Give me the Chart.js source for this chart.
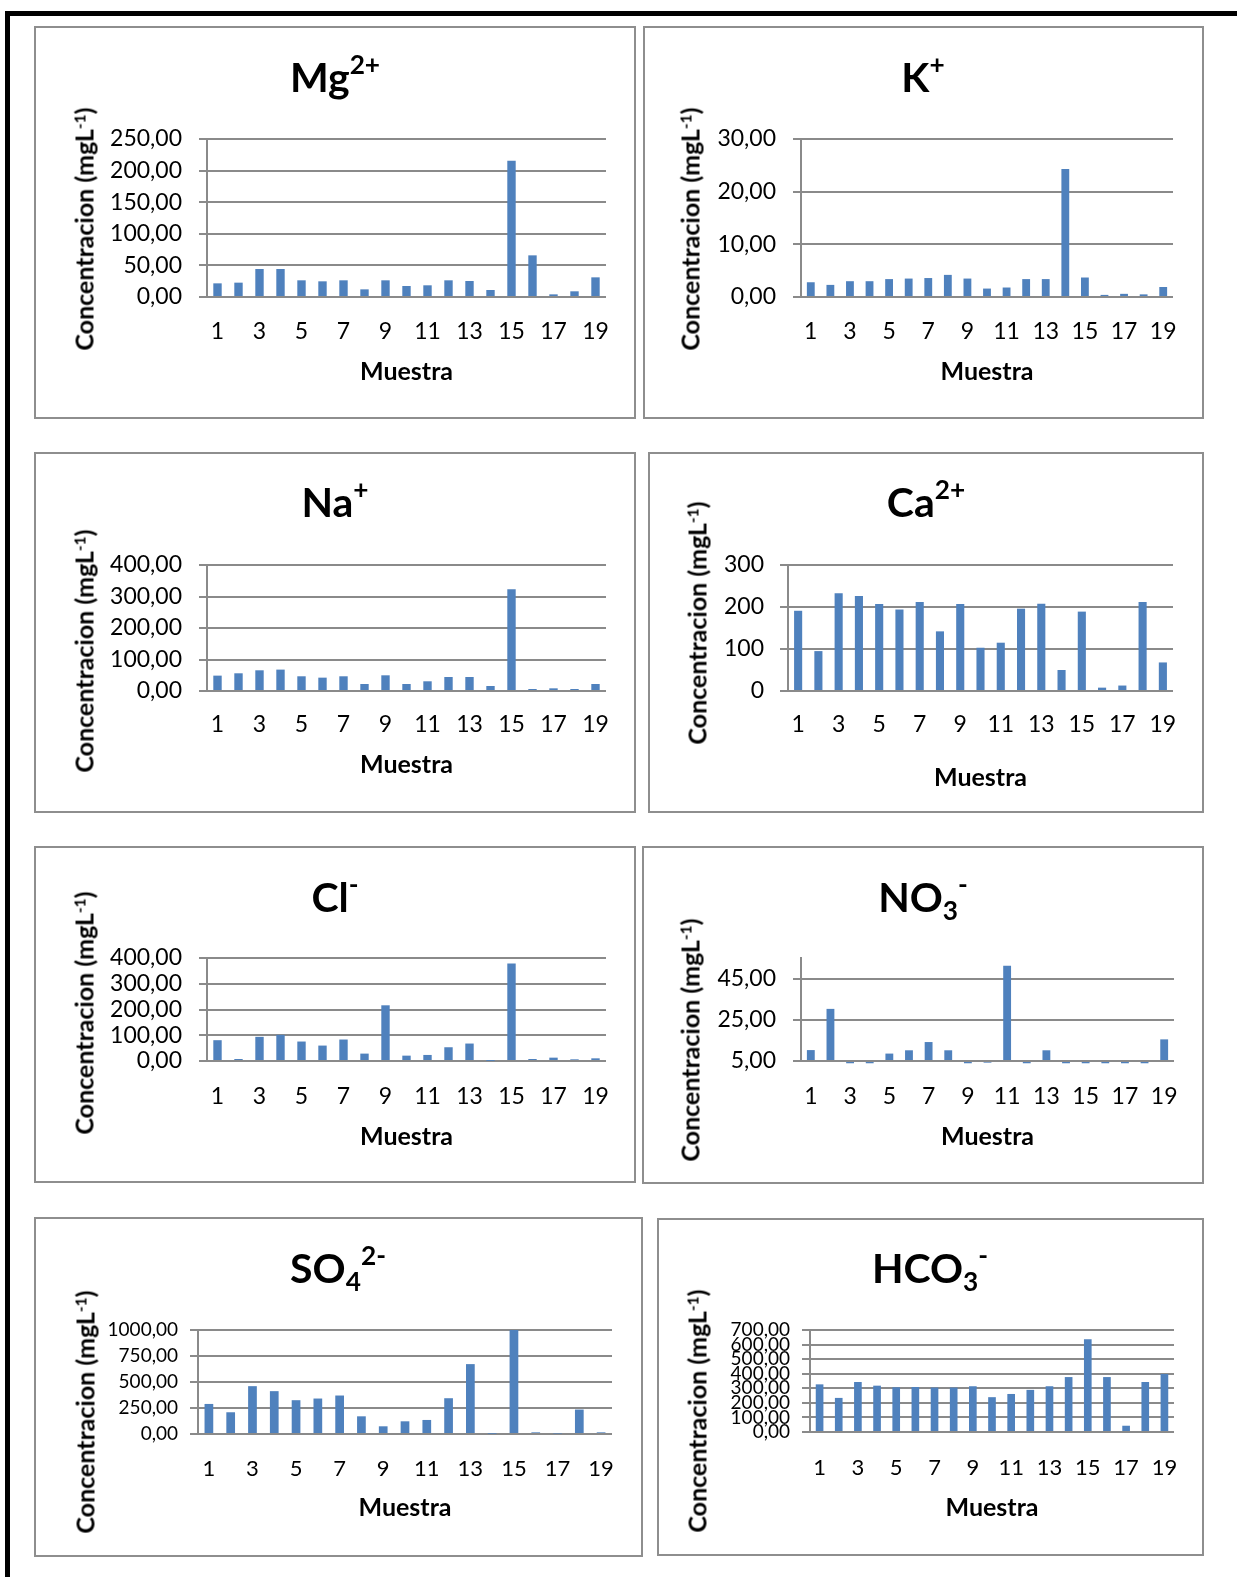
<!DOCTYPE html>
<html>
<head>
<meta charset="utf-8">
<script src="https://cdn.jsdelivr.net/npm/chart.js@4.4.0/dist/chart.umd.min.js"></script>
<style>
body{margin:0;background:#fff;width:1237px;height:1577px;overflow:hidden;position:relative;font-family:Lato,sans-serif;color:#000;}
#frame{position:absolute;left:5px;top:11px;width:1300px;height:1700px;border-top:5px solid #000;border-left:5px solid #000;}
.box{position:absolute;box-sizing:border-box;border:2px solid #8e8e8e;}
.wrap{position:absolute;}
.ttl{position:absolute;font-weight:bold;font-size:41px;line-height:41px;white-space:nowrap;transform:translateX(-50%);}
.ttl sup{font-size:.64em;position:relative;top:-.7em;vertical-align:baseline;}
.ttl sub{font-size:.64em;position:relative;top:.32em;vertical-align:baseline;}
.ytl{position:absolute;font-weight:bold;font-size:25px;line-height:25px;white-space:nowrap;transform:translate(-50%,-50%) rotate(-90deg);}
.ytl sup{font-size:.62em;position:relative;top:-.5em;vertical-align:baseline;}
</style>
</head>
<body>
<div id="frame"></div>
<script>
// muestras 1..19
const muestras = ['1','2','3','4','5','6','7','8','9','10','11','12','13','14','15','16','17','18','19'];

// concentraciones (mg/L)
const mg   = [21.6, 22.7, 44.3, 44.3, 26.4, 24.8, 26.4, 12.1, 26.4, 17.4, 18.5, 26.4, 25.3, 11.1, 215.7, 65.9, 4.2, 9.0, 31.1];
const k    = [2.8, 2.3, 3.0, 3.0, 3.4, 3.5, 3.6, 4.2, 3.5, 1.6, 1.8, 3.4, 3.4, 24.3, 3.7, 0.4, 0.6, 0.5, 1.9];
const na   = [48.8, 56.2, 65.7, 67.9, 46.7, 42.4, 46.7, 22.3, 49.8, 22.3, 30.8, 44.5, 44.5, 15.9, 323.4, 6.4, 8.5, 6.4, 22.3];
const ca   = [191, 95, 233, 226, 207, 194, 212, 142, 207, 103, 115, 196, 208, 50, 189, 8, 13, 212, 68];
const cl   = [80.8, 7.8, 93.8, 101.6, 75.6, 59.9, 83.4, 28.7, 216.3, 20.8, 23.5, 53.4, 67.8, 0.5, 379, 7.8, 13, 6.5, 10.4];
const no3  = [10.3, 30.3, 3.9, 3.9, 8.6, 10.2, 14.2, 10.2, 3.9, 4.2, 51.2, 3.9, 10.2, 3.9, 3.9, 3.9, 3.9, 3.9, 15.5];
const so4  = [289, 209, 460, 412, 325, 341, 370, 170, 74, 122, 135, 344, 672, 3, 1000, 16, 5, 235, 16];
const hco3 = [327, 234, 343, 318, 307, 309, 305, 305, 314, 239, 261, 289, 314, 377, 636, 377, 43, 343, 398];

// ticks del eje y
const mgTicks   = [0, 50, 100, 150, 200, 250];
const kTicks    = [0, 10, 20, 30];
const naTicks   = [0, 100, 200, 300, 400];
const caTicks   = [0, 100, 200, 300];
const clTicks   = [0, 100, 200, 300, 400];
const no3Ticks  = [5, 25, 45];
const so4Ticks  = [0, 250, 500, 750, 1000];
const hco3Ticks = [0, 100, 200, 300, 400, 500, 600, 700];

const dec = v => v.toFixed(2).replace('.', ',');
const ent = v => String(v);

// box: [left, top, w, h]; plot: [left, right, top, bottom]; all page px
const charts = [
  {title:'Mg<sup>2+</sup>', data:mg, ticks:mgTicks, min:0, max:250, fmt:dec,
   box:[34,26,602,393], plot:[207,606,139,297], yt:[86,229], xlab:332, mu:372, tb:92, tx:335, yf:23, xf:23, yp:17},
  {title:'K<sup>+</sup>', data:k, ticks:kTicks, min:0, max:30, fmt:dec,
   box:[643,26,561,393], plot:[801,1173,139,297], yt:[692,229], xlab:332, mu:372, tb:92, tx:923, yf:23, xf:23, yp:17},
  {title:'Na<sup>+</sup>', data:na, ticks:naTicks, min:0, max:400, fmt:dec,
   box:[34,452,602,361], plot:[207,606,565,691], yt:[86,651], xlab:725, mu:765, tb:517, tx:335, yf:23, xf:23, yp:17},
  {title:'Ca<sup>2+</sup>', data:ca, ticks:caTicks, min:0, max:300, fmt:ent,
   box:[648,452,556,361], plot:[788,1173,565,691], yt:[699,623], xlab:725, mu:778, tb:517, tx:926, yf:23, xf:23, yp:16},
  {title:'Cl<sup>-</sup>', data:cl, ticks:clTicks, min:0, max:400, fmt:dec,
   box:[34,846,602,337], plot:[207,606,958,1061], yt:[86,1013], xlab:1097, mu:1137, tb:912, tx:335, yf:23, xf:23, yp:17},
  {title:'NO<sub>3</sub><sup>-</sup>', data:no3, ticks:no3Ticks, min:5, max:55, fmt:dec,
   box:[642,846,562,338], plot:[801,1174,958,1061], yt:[692,1040], xlab:1097, mu:1137, tb:912, tx:923, yf:23, xf:23, yp:17},
  {title:'SO<sub>4</sub><sup>2-</sup>', data:so4, ticks:so4Ticks, min:0, max:1000, fmt:dec,
   box:[34,1217,609,340], plot:[198,612,1330,1434], yt:[87,1412], xlab:1469, mu:1508, tb:1283, tx:338, yf:19, xf:22, yp:12},
  {title:'HCO<sub>3</sub><sup>-</sup>', data:hco3, ticks:hco3Ticks, min:0, max:700, fmt:dec,
   box:[657,1218,547,338], plot:[810,1174,1330,1432], yt:[699,1411], xlab:1468, mu:1508, tb:1283, tx:930, yf:19, xf:22, yp:12}
];

const muSize = 25;

charts.forEach(p => {
  const [L, T, W, H] = p.box;

  const box = document.createElement('div');
  box.className = 'box';
  Object.assign(box.style, {left: L+'px', top: T+'px', width: W+'px', height: H+'px'});
  document.body.appendChild(box);

  const wrap = document.createElement('div');
  wrap.className = 'wrap';
  Object.assign(wrap.style, {left: L+'px', top: T+'px', width: W+'px', height: H+'px'});
  const cv = document.createElement('canvas');
  wrap.appendChild(cv);
  document.body.appendChild(wrap);

  // titulo del grafico
  const t = document.createElement('div');
  t.className = 'ttl';
  t.innerHTML = p.title;
  t.style.left = p.tx + 'px';
  t.style.top = (p.tb - 36) + 'px';
  document.body.appendChild(t);

  // titulo eje y
  const yt = document.createElement('div');
  yt.className = 'ytl';
  yt.innerHTML = 'Concentracion (mgL<sup>-1</sup>)';
  yt.style.left = p.yt[0] + 'px';
  yt.style.top = p.yt[1] + 'px';
  document.body.appendChild(yt);

  const plotL = p.plot[0] - L, plotR = p.plot[1] - L;
  const plotT = p.plot[2] - T, plotB = p.plot[3] - T;
  const xH = p.mu - p.plot[3] + muSize * 0.6;
  const xPad = p.xlab - p.plot[3] - p.xf * 0.6 - 8;

  new Chart(cv, {
    type: 'bar',
    data: {
      labels: muestras,
      datasets: [{
        data: p.data,
        base: p.min,
        backgroundColor: '#4F81BD',
        barPercentage: 0.4,
        categoryPercentage: 1,
        clip: false
      }]
    },
    options: {
      responsive: true,
      maintainAspectRatio: false,
      animation: false,
      layout: {padding: {left: 0, top: plotT, right: W - plotR, bottom: H - plotB - xH}},
      plugins: {legend: {display: false}, tooltip: {enabled: false}},
      scales: {
        x: {
          grid: {display: false},
          border: {display: false},
          ticks: {
            autoSkip: false, maxRotation: 0, padding: xPad, color: '#000',
            font: {family: 'Lato', size: p.xf},
            callback: (v, i) => i % 2 === 0 ? muestras[i] : ''
          },
          title: {display: true, text: 'Muestra', color: '#000', padding: 0,
                  font: {family: 'Lato', weight: 'bold', size: muSize}},
          afterFit: s => { s.height = xH; }
        },
        y: {
          min: p.min, max: p.max,
          afterBuildTicks: s => { s.ticks = p.ticks.map(v => ({value: v})); },
          grid: {color: '#8a8a8a', lineWidth: 2, tickLength: 8},
          border: {color: '#8a8a8a', width: 2},
          ticks: {
            autoSkip: false, padding: p.yp, color: '#000',
            font: {family: 'Lato', size: p.yf},
            callback: v => p.fmt(v)
          },
          afterFit: s => { s.width = plotL; }
        }
      }
    }
  });
});
</script>
</body>
</html>
